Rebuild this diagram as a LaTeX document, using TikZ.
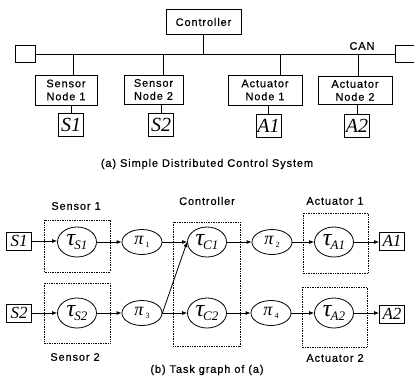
\documentclass[tikz,border=0pt]{standalone}
\usepackage{fontspec}
\setmainfont{Liberation Sans}[LetterSpace=8, FakeBold=0.5]
\newfontfamily\serif{Liberation Serif}
\usetikzlibrary{arrows.meta,shapes.geometric}
\newcommand\tausub[1]{{\serif\itshape\fontsize{24}{24}\selectfont τ\kern-1pt\raisebox{-4.5pt}{\fontsize{13}{13}\selectfont #1}}}
\newcommand\pisub[1]{{\serif\itshape\fontsize{18}{18}\selectfont π\kern2pt\raisebox{-3pt}{\upshape\fontsize{8}{8}\selectfont #1}}}
\begin{document}
\begin{tikzpicture}[x=1pt,y=-1pt,
  box/.style={draw, line width=0.8pt, inner sep=0pt, align=center, font=\fontsize{11}{13}\selectfont},
  term/.style={draw, line width=0.8pt, minimum width=20pt, minimum height=17pt, inner sep=0pt},
  sigtop/.style={draw, line width=0.8pt, inner sep=0pt, minimum width=25pt, minimum height=23pt, font=\serif\itshape\fontsize{20}{20}\selectfont},
  sigbot/.style={draw, line width=0.8pt, inner sep=0pt, minimum width=25pt, minimum height=18pt, font=\serif\itshape\fontsize{17}{17}\selectfont},
  task/.style={draw, ellipse, line width=0.8pt, minimum width=39pt, minimum height=30pt, inner sep=0pt},
  msg/.style={draw, ellipse, line width=0.8pt, minimum width=40pt, minimum height=25pt, inner sep=0pt},
  grp/.style={densely dotted, line width=0.7pt},
  lbl/.style={font=\fontsize{11}{13}\selectfont},
  wire/.style={line width=0.8pt},
  arr/.style={-{Latex[length=5pt,width=4pt]}, line width=0.8pt}]
\useasboundingbox (0,0) rectangle (414,376);
% ---------- (a) ----------
\node[box, minimum width=75pt, minimum height=25pt] (ctrl) at (203.5,22) {Controller};
\node[term] (lt) at (25,54) {};
\node[term] (rt) at (405,54) {};
\draw[wire] (lt.east) -- (rt.west);
\draw[wire] (ctrl.south) -- (ctrl.south |- lt.east);
\node[lbl] (can) at (362,46) {CAN};
\node[box, minimum width=62pt, minimum height=30pt] (sn1) at (66,90) {Sensor\\Node 1};
\node[box, minimum width=59pt, minimum height=29pt] (sn2) at (153.5,89.5) {Sensor\\Node 2};
\node[box, minimum width=74pt, minimum height=30pt] (an1) at (265,90) {Actuator\\Node 1};
\node[box, minimum width=74pt, minimum height=28pt] (an2) at (355,90.5) {Actuator\\Node 2};
\draw[wire] ([xshift=7pt]sn1.north) -- ([xshift=7pt]sn1.north |- lt.east);
\draw[wire] ([xshift=9.5pt]sn2.north) -- ([xshift=9.5pt]sn2.north |- lt.east);
\draw[wire] ([xshift=15pt]an1.north) -- ([xshift=15pt]an1.north |- lt.east);
\draw[wire] ([xshift=3pt]an2.north) -- ([xshift=3pt]an2.north |- lt.east);
\node[sigtop] (s1t) at (71,125) {S1};
\node[sigtop] (s2t) at (161,125) {S2};
\node[sigtop] (a1t) at (268.5,126) {A1};
\node[sigtop] (a2t) at (357,126) {A2};
\draw[wire] (sn1.south -| s1t.north) -- (s1t.north);
\draw[wire] (sn2.south -| s2t.north) -- (s2t.north);
\draw[wire] (an1.south -| a1t.north) -- (a1t.north);
\draw[wire] (an2.south -| a2t.north) -- (a2t.north);
\node[lbl] (capa) at (207,164) {(a) Simple Distributed Control System};
% ---------- (b) ----------
\draw[grp] (44,220) rectangle (110,272);
\draw[grp] (44,283) rectangle (110,343);
\draw[grp] (173,222) rectangle (240,346);
\draw[grp] (303,213) rectangle (368,273);
\draw[grp] (302,287) rectangle (367,347);
\node[lbl] (ls1) at (76,206) {Sensor 1};
\node[lbl] (lc) at (207,201) {Controller};
\node[lbl] (la1) at (335,201) {Actuator 1};
\node[lbl] (ls2) at (75,357) {Sensor 2};
\node[lbl] (la2) at (335,358) {Actuator 2};
\node[sigbot] (s1) at (19,241) {S1};
\node[sigbot] (s2) at (19,313) {S2};
\node[sigbot] (a1) at (392,241) {A1};
\node[sigbot] (a2) at (392,314) {A2};
\node[task] (ts1) at (77,242) {\tausub{S1}};
\node[msg] (p1) at (142,242) {\pisub{1}};
\node[task] (tc1) at (207,242) {\tausub{C1}};
\node[msg] (p2) at (272,242) {\pisub{2}};
\node[task] (ta1) at (334,242) {\tausub{A1}};
\node[task] (ts2) at (77,313) {\tausub{S2}};
\node[msg] (p3) at (142,313) {\pisub{3}};
\node[task] (tc2) at (207,313) {\tausub{C2}};
\node[msg] (p4) at (271,313) {\pisub{4}};
\node[task] (ta2) at (334,313) {\tausub{A2}};
\draw[arr] (s1.east) -- (ts1.west |- s1.east);
\draw[arr] (ts1) -- (p1);
\draw[arr] (p1) -- (tc1);
\draw[arr] (tc1) -- (p2);
\draw[arr] (p2) -- (ta1);
\draw[arr] (ta1.east) -- (a1.west |- ta1.east);
\draw[arr] (s2.east) -- (ts2.west |- s2.east);
\draw[arr] (ts2) -- (p3);
\draw[arr] (p3) -- (tc2);
\draw[arr] (p3.east) -- (tc1.west);
\draw[arr] (tc2) -- (p4);
\draw[arr] (p4) -- (ta2);
\draw[arr] (ta2.east) -- (a2.west |- ta2.east);
\node[lbl] (capb) at (207,370) {(b) Task graph of (a)};
\end{tikzpicture}
\end{document}
